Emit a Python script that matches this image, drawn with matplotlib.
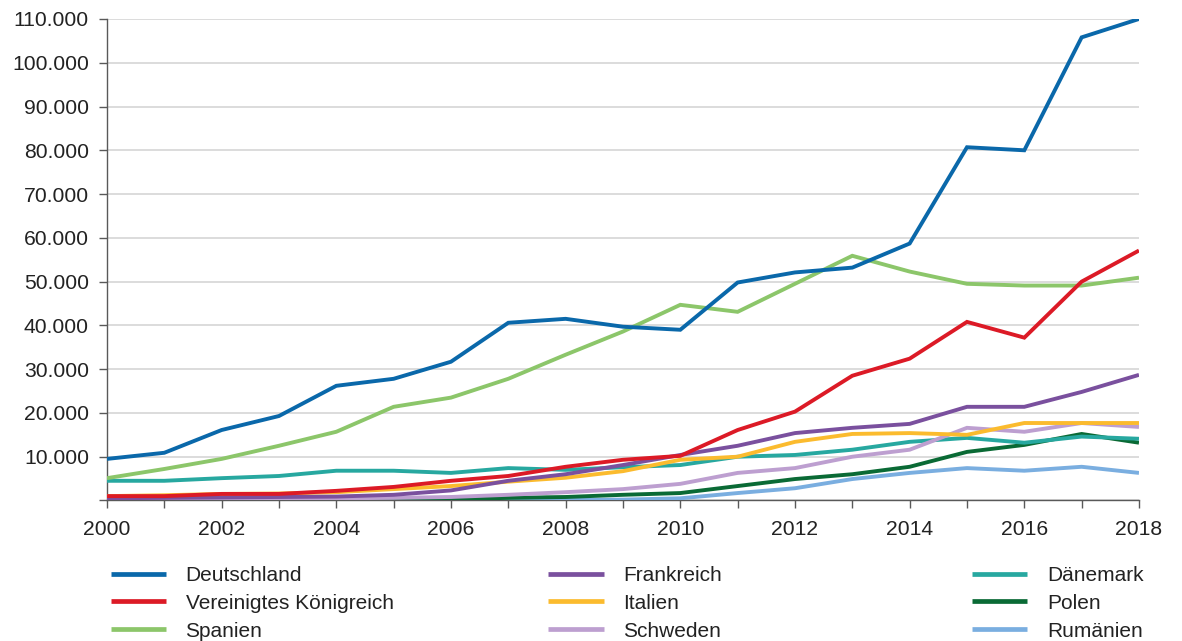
import matplotlib
matplotlib.use("Agg")
import matplotlib.pyplot as plt
from matplotlib.ticker import FuncFormatter, MultipleLocator

plt.rcParams['font.family'] = ['Liberation Sans', 'DejaVu Sans']

years = list(range(2000, 2019))

deutschland = [9500, 10900, 16100, 19300, 26200, 27800, 31700, 40600, 41500, 39700,
               39000, 49800, 52100, 53200, 58700, 80700, 80000, 105800, 110000]
vereinigtes_koenigreich = [1000, 1000, 1500, 1500, 2200, 3100, 4500, 5600, 7700, 9300,
                           10200, 16100, 20300, 28500, 32400, 40800, 37200, 50000, 57100]
spanien = [5100, 7200, 9500, 12500, 15700, 21400, 23500, 27800, 33300, 38600,
           44700, 43100, 49500, 55900, 52300, 49500, 49100, 49100, 50900]
frankreich = [500, 600, 700, 800, 900, 1300, 2300, 4500, 6000, 8100,
              10400, 12500, 15400, 16600, 17500, 21400, 21400, 24800, 28700]
italien = [1000, 1200, 1500, 1600, 1900, 2600, 3300, 4300, 5200, 6700,
           9300, 10000, 13400, 15200, 15400, 15000, 17700, 17700, 17700]
schweden = [300, 300, 400, 400, 500, 600, 800, 1300, 1900, 2600,
            3800, 6300, 7400, 10000, 11600, 16600, 15700, 17700, 16800]
daenemark = [4500, 4500, 5100, 5600, 6800, 6800, 6300, 7400, 7000, 7600,
             8100, 10000, 10400, 11600, 13400, 14300, 13200, 14600, 14100]
polen = [0, 0, 100, 100, 200, 200, 300, 600, 800, 1300,
         1700, 3300, 4900, 6000, 7700, 11100, 12700, 15200, 13200]
rumaenien = [0, 0, 0, 0, 0, 0, 0, 0, 100, 200,
             500, 1700, 2800, 4900, 6300, 7400, 6800, 7700, 6300]

series = [
    ("Deutschland", deutschland, "#0a68aa"),
    ("Vereinigtes Königreich", vereinigtes_koenigreich, "#dc1a26"),
    ("Spanien", spanien, "#8cc66a"),
    ("Frankreich", frankreich, "#7a509e"),
    ("Italien", italien, "#fbbb2e"),
    ("Schweden", schweden, "#bd9fd0"),
    ("Dänemark", daenemark, "#27a8a0"),
    ("Polen", polen, "#0a6a35"),
    ("Rumänien", rumaenien, "#7aaee0"),
]

fig = plt.figure(figsize=(11.82, 6.41), dpi=100)
ax = fig.add_axes([0.0905, 0.2192, 0.9636 - 0.0905, 0.9704 - 0.2192])

handles = {}
n = len(series)
for i, (name, vals, col) in enumerate(series):
    line, = ax.plot(years, vals, color=col, lw=2.8, solid_joinstyle='miter',
                    solid_capstyle='butt', zorder=3 + (n - i) * 0.1, label=name)
    handles[name] = line

ax.set_xlim(2000, 2018)
ax.set_ylim(0, 110000)
ax.yaxis.set_major_locator(MultipleLocator(10000))
ax.xaxis.set_major_locator(MultipleLocator(2))
ax.xaxis.set_minor_locator(MultipleLocator(1))


def thousands(v, pos):
    if v == 0:
        return ""
    return f"{int(v):,}".replace(",", ".")


ax.yaxis.set_major_formatter(FuncFormatter(thousands))
ax.grid(axis='y', color='#d9d9d9', lw=1.3, zorder=0)
ax.set_axisbelow(True)
for side in ("top", "right"):
    ax.spines[side].set_visible(False)
for side in ("left", "bottom"):
    ax.spines[side].set_color('#595959')
    ax.spines[side].set_linewidth(1.0)
    ax.spines[side].set_zorder(2)
ax.tick_params(axis='both', colors='#595959', labelcolor='#222222', labelsize=15.2,
               length=6, width=1.0, direction='out')
ax.tick_params(axis='x', which='minor', colors='#595959', length=6, width=1.0)
ax.tick_params(axis='x', pad=8)
ax.tick_params(axis='y', pad=7)

columns = [
    (["Deutschland", "Vereinigtes Königreich", "Spanien"], 0.0935),
    (["Frankreich", "Italien", "Schweden"], 0.4640),
    (["Dänemark", "Polen", "Rumänien"], 0.8225),
]
for names, x0 in columns:
    hs = [handles[nm] for nm in names]
    leg = fig.legend(hs, names, loc='upper left', bbox_to_anchor=(x0, 0.117),
                     frameon=False, fontsize=15, handlelength=2.65,
                     handletextpad=0.95, labelspacing=0.42, borderpad=0,
                     borderaxespad=0)
    for lh in leg.get_lines():
        lh.set_linewidth(3.4)
    for t in leg.get_texts():
        t.set_color('#222222')

fig.savefig("out.png", dpi=100)
